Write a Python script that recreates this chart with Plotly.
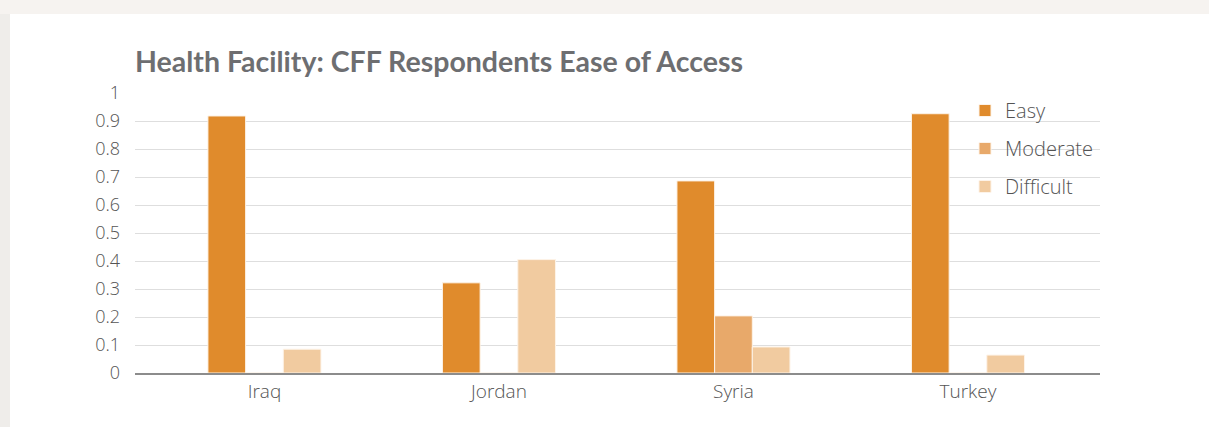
import plotly.graph_objects as go

# Survey results: share of CFF respondents by ease of access to a health facility
countries = ["Iraq", "Jordan", "Syria", "Turkey"]
easy = [0.918, 0.322, 0.686, 0.926]
moderate = [0.0, 0.0, 0.204, 0.0]
difficult = [0.085, 0.405, 0.093, 0.064]
y_ticks = [0, 0.1, 0.2, 0.3, 0.4, 0.5, 0.6, 0.7, 0.8, 0.9, 1]
y_tick_text = ["0", "0.1", "0.2", "0.3", "0.4", "0.5", "0.6", "0.7", "0.8", "0.9", "1"]

series = [
    ("Easy", easy, "#E08B2C"),
    ("Moderate", moderate, "#E8A96A"),
    ("Difficult", difficult, "#F1CBA0"),
]

FONT = "Open Sans, Lato, sans-serif"
TEXT_GRAY = "#545454"

fig = go.Figure()
for i, (name, vals, color) in enumerate(series):
    fig.add_trace(go.Bar(
        x=countries,
        y=vals,
        name=name,
        legendgroup=name,
        marker=dict(color=color, line=dict(color="#fdf3e8", width=1)),
    ))

W, H = 1209, 427
L, R, T, B = 135, 109, 93, 54
plot_w = W - L - R
plot_h = H - T - B

def px_x(p):
    return (p - L) / plot_w

def px_y(p):
    return (H - B - p) / plot_h

# White card on a soft warm backdrop
fig.add_shape(type="rect", xref="paper", yref="paper",
              x0=px_x(-5), x1=px_x(W + 5), y0=px_y(-5), y1=px_y(14),
              fillcolor="#f6f3f0", line_width=0, layer="below")
fig.add_shape(type="rect", xref="paper", yref="paper",
              x0=px_x(10), x1=px_x(W + 5), y0=px_y(H + 5), y1=px_y(14),
              fillcolor="#ffffff", line_width=0, layer="below")

fig.update_layout(
    width=W, height=H,
    margin=dict(l=L, r=R, t=T, b=B, pad=0),
    paper_bgcolor="#efedea",
    plot_bgcolor="rgba(0,0,0,0)",
    barmode="group",
    bargap=0.518,
    bargroupgap=0.0,
    font=dict(family=FONT, color=TEXT_GRAY, size=17),
    title=dict(
        text="<b>Health Facility: CFF Respondents Ease of Access</b>",
        font=dict(family="Lato, Open Sans, sans-serif", size=28.5, color="#6d6e71"),
        x=0, xref="paper", xanchor="left",
        y=1 - 62 / H, yref="container", yanchor="middle",
    ),
    xaxis=dict(
        range=[-0.552, 3.563],
        showgrid=False,
        showline=True, linecolor="#8c8c8c", linewidth=1.5,
        ticks="", ticklabelstandoff=0,
        tickfont=dict(family=FONT, size=19, color=TEXT_GRAY, weight=300),
        fixedrange=True,
    ),
    yaxis=dict(
        range=[0, 1.0],
        tickvals=y_ticks, ticktext=y_tick_text,
        showgrid=True, gridcolor="#dedede", gridwidth=1,
        zeroline=False, showline=False,
        ticks="", ticklabelstandoff=14,
        tickfont=dict(family=FONT, size=18, color=TEXT_GRAY, weight=300),
        fixedrange=True,
    ),
    legend=dict(
        x=px_x(965), xanchor="left",
        y=px_y(91), yanchor="top",
        traceorder="grouped",
        tracegroupgap=9,
        font=dict(family=FONT, size=20, color=TEXT_GRAY, weight=300),
        bgcolor="rgba(0,0,0,0)",
        itemclick=False, itemdoubleclick=False,
    ),
    showlegend=True,
)

fig.write_html("out.html")
